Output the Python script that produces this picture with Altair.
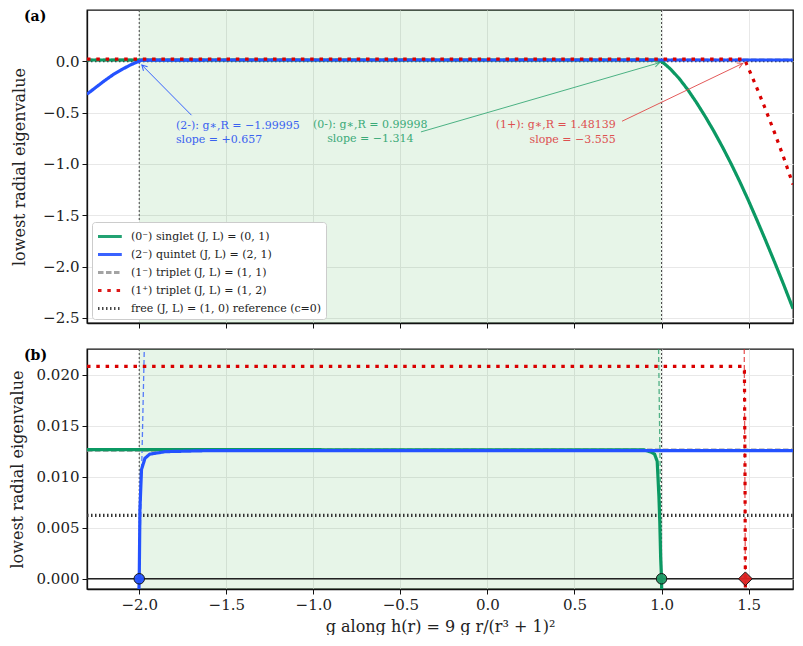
import math
import pandas as pd
import altair as alt

# ---- values ----
X_DOMAIN = [-2.3, 1.755]
TOP_DOMAIN = [-2.55, 0.5]
BOT_DOMAIN = [-0.001, 0.0225]
W, H_TOP, H_BOT = 706, 313, 240

series_keys = ['singlet', 'quintet', 'triplet_m', 'triplet_p', 'free']
series_labels = [
    '(0⁻) singlet (J, L) = (0, 1)',
    '(2⁻) quintet (J, L) = (2, 1)',
    '(1⁻) triplet (J, L) = (1, 1)',
    '(1⁺) triplet (J, L) = (1, 2)',
    'free (J, L) = (1, 0) reference (c=0)',
]
series_colors = ['#0b9963', '#2452ff', '#9a9a9a', '#d90000', '#333333']
series_dash = [[1, 0], [1, 0], [5.5, 2.5], [3.5, 5.8], [1.5, 2.5]]
series_width = [3.2, 3.2, 1.5, 3.5, 1.5]

g_singlet = [-2.3, 0.90, 0.94, 0.96, 0.975, 0.985, 0.99, 0.995, 0.99998, 1.01, 1.05, 1.10,
             1.15, 1.20, 1.25, 1.30, 1.35, 1.40, 1.45, 1.50, 1.55, 1.60, 1.65, 1.70, 1.755]
y_singlet = [0.01265, 0.01262, 0.0124, 0.0122, 0.0115, 0.0080, 0.0055, 0.0020, 0.0, -0.014,
             -0.073, -0.165, -0.275, -0.40, -0.535, -0.68, -0.835, -1.00, -1.175, -1.36, -1.555,
             -1.755, -1.96, -2.17, -2.41]

g_quintet = [-2.3, -2.25, -2.2, -2.15, -2.1, -2.05, -2.02, -2.005, -1.99995, -1.996, -1.987,
             -1.967, -1.94, -1.85, -1.6, 1.755]
y_quintet = [-0.32, -0.255, -0.19, -0.13, -0.08, -0.035, -0.013, -0.003, 0.0, 0.0068, 0.0107,
             0.0118, 0.0122, 0.01245, 0.01255, 0.01255]

g_triplet_m = [-2.3, 1.755]
y_triplet_m = [0.0126, 0.0126]

g_triplet_p = [-2.3, 1.47, 1.476, 1.479, 1.48139, 1.49, 1.50, 1.55, 1.60, 1.65, 1.70, 1.755]
y_triplet_p = [0.0208, 0.0208, 0.0204, 0.012, 0.0, -0.032, -0.07, -0.27, -0.48, -0.70, -0.93, -1.20]

g_free = [-2.3, 1.755]
y_free = [0.0062, 0.0062]

# crossings g*,R and slopes
cross_keys = ['quintet', 'singlet', 'triplet_p']
cross_g = [-1.99995, 0.99998, 1.48139]
cross_shape = ['circle', 'circle', 'diamond']
cross_color = ['#2452ff', '#1f9a66', '#dd2222']
# tangent dashes in panel (b): g at bottom (y=-0.001) and at top (y=0.0225)
tan_g_bottom = [-2.001, 1.0007, 1.4817]
tan_g_top = [-1.971, 0.983, 1.475]

# annotations in panel (a)
ann_text = ['(2-):  g∗,R = −1.99995', 'slope = +0.657',
            '(0-):  g∗,R = 0.99998', 'slope = −1.314',
            '(1+):  g∗,R = 1.48139', 'slope = −3.555']
ann_g = [-1.789, -1.789, -0.673, -0.673, 0.737, 0.737]
ann_y = [-0.632, -0.768, -0.62, -0.756, -0.62, -0.765]
ann_align = ['left', 'left', 'center', 'center', 'right', 'right']
ann_color = ['#3a62f0', '#3a62f0', '#3aaa78', '#3aaa78', '#dd5050', '#dd5050']

arrow_g0 = [-1.700, -0.382, 0.773]
arrow_y0 = [-0.525, -0.688, -0.584]
arrow_g1 = [-1.985, 0.989, 1.466]
arrow_y1 = [-0.036, -0.013, -0.020]
arrow_color = ['#2452ff', '#3aaa78', '#e04848']

region = [-2.0, 1.0]

FONT = 'DejaVu Serif'

frames = []
for k, g, y in [('singlet', g_singlet, y_singlet), ('quintet', g_quintet, y_quintet),
                ('triplet_m', g_triplet_m, y_triplet_m), ('triplet_p', g_triplet_p, y_triplet_p),
                ('free', g_free, y_free)]:
    frames.append(pd.DataFrame({'series': k, 'g': g, 'y': y}))
lines_df = pd.concat(frames, ignore_index=True)
label_map = dict(zip(series_keys, series_labels))
lines_df['label'] = lines_df['series'].map(label_map)

color_scale = alt.Scale(domain=series_labels, range=series_colors)
dash_scale = alt.Scale(domain=series_labels, range=series_dash)
width_scale = alt.Scale(domain=series_labels, range=series_width)


def panel(y_domain, height, show_legend, y_format, y_values, x_axis, title_x):
    x = alt.X('g:Q', scale=alt.Scale(domain=X_DOMAIN, nice=False, zero=False), axis=x_axis)
    y_enc = alt.Y('y:Q', scale=alt.Scale(domain=y_domain, nice=False, zero=False),
                  axis=alt.Axis(title='lowest radial eigenvalue', format=y_format, values=y_values,
                                titleX=title_x, titleBaseline='bottom'))
    legend = alt.Legend(title=None, orient='none', legendX=5, legendY=height - 101,
                        symbolType='M -1 0 H 1.8', symbolSize=289, labelFont=FONT, labelFontSize=11,
                        labelColor='#222', fillColor='white', strokeColor='#cccccc',
                        cornerRadius=3, padding=4, rowPadding=1, labelOffset=14, labelLimit=400,
                        symbolStrokeWidth=3) if show_legend else None

    shade = alt.Chart(pd.DataFrame({'a': [region[0]], 'b': [region[1]]})).mark_rect(
        color='#3cb043', opacity=0.12).encode(x=alt.X('a:Q', scale=alt.Scale(domain=X_DOMAIN, nice=False)), x2='b:Q')
    vlines = alt.Chart(pd.DataFrame({'g': region})).mark_rule(
        color='#444444', strokeDash=[2, 2], strokeWidth=1).encode(x='g:Q')

    layers = [shade, vlines]
    for k in ['triplet_m', 'free', 'singlet', 'quintet', 'triplet_p']:
        sub = lines_df[lines_df['series'] == k]
        layers.append(alt.Chart(sub).mark_line(clip=True, strokeCap='butt').encode(
            x=x, y=y_enc, order=alt.Order('g:Q'),
            color=alt.Color('label:N', scale=color_scale, legend=legend),
            strokeDash=alt.StrokeDash('label:N', scale=dash_scale, legend=legend),
            strokeWidth=alt.StrokeWidth('label:N', scale=width_scale, legend=legend),
        ))
    return layers


# ---- panel (a) ----
top_layers = panel(TOP_DOMAIN, H_TOP, True, '.1f', [0.0, -0.5, -1.0, -1.5, -2.0, -2.5],
                   alt.Axis(labels=False, title=None, values=[-2.0, -1.5, -1.0, -0.5, 0.0, 0.5, 1.0, 1.5]),
                   -60)

ann_df = pd.DataFrame({'t': ann_text, 'g': ann_g, 'y': ann_y, 'al': ann_align, 'c': ann_color})
for al in ['left', 'center', 'right']:
    top_layers.append(alt.Chart(ann_df[ann_df['al'] == al]).mark_text(
        align=al, baseline='middle', font=FONT, fontSize=11).encode(
        x='g:Q', y='y:Q', text='t:N', color=alt.Color('c:N', scale=None)))

kx = W / (X_DOMAIN[1] - X_DOMAIN[0])
ky = H_TOP / (TOP_DOMAIN[1] - TOP_DOMAIN[0])
arrow_angle = [math.degrees(math.atan2((g1 - g0) * kx, (y1 - y0) * ky)) % 360
               for g0, y0, g1, y1 in zip(arrow_g0, arrow_y0, arrow_g1, arrow_y1)]
arr_df = pd.DataFrame({'g0': arrow_g0, 'y0': arrow_y0, 'g1': arrow_g1, 'y1': arrow_y1,
                       'c': arrow_color, 'ang': arrow_angle})
top_layers.append(alt.Chart(arr_df).mark_rule(strokeWidth=1, opacity=0.9).encode(
    x='g0:Q', y='y0:Q', x2='g1:Q', y2='y1:Q', color=alt.Color('c:N', scale=None)))
top_layers.append(alt.Chart(arr_df).mark_point(
    shape='M -0.55 1 L 0 0 L 0.55 1', filled=False, size=110, strokeWidth=1, opacity=0.9).encode(
    x='g1:Q', y='y1:Q', angle=alt.Angle('ang:Q', scale=None), color=alt.Color('c:N', scale=None)))
top_layers.append(alt.Chart(pd.DataFrame({'t': ['(a)']})).mark_text(
    font=FONT, fontSize=14, fontWeight='bold', align='left', baseline='middle').encode(
    text='t:N', x=alt.value(-63), y=alt.value(7)))

top = alt.layer(*top_layers).properties(width=W, height=H_TOP)

# ---- panel (b) ----
bot_layers = panel(BOT_DOMAIN, H_BOT, False, '.3f', [0.0, 0.005, 0.01, 0.015, 0.02],
                   alt.Axis(title='g along h(r) = 9 g r/(r³ + 1)²', format='.1f',
                            values=[-2.0, -1.5, -1.0, -0.5, 0.0, 0.5, 1.0, 1.5]),
                   -62)

bot_layers.insert(2, alt.Chart(pd.DataFrame({'y': [0.0]})).mark_rule(
    color='#222222', strokeWidth=1.5).encode(y='y:Q'))

tan_rows = []
for k, gb, gt, c in zip(cross_keys, tan_g_bottom, tan_g_top, cross_color):
    tan_rows.append({'k': k, 'g': gb, 'y': BOT_DOMAIN[0], 'c': c})
    tan_rows.append({'k': k, 'g': gt, 'y': BOT_DOMAIN[1], 'c': c})
tan_df = pd.DataFrame(tan_rows)
bot_layers.insert(3, alt.Chart(tan_df).mark_line(
    strokeDash=[5, 3], strokeWidth=1.3, opacity=0.75, clip=True).encode(
    x='g:Q', y='y:Q', detail='k:N', color=alt.Color('c:N', scale=None)))

mk_df = pd.DataFrame({'g': cross_g, 'y': [0.0, 0.0, 0.0], 's': cross_shape, 'c': cross_color,
                      'sz': [110, 110, 190]})
bot_layers.append(alt.Chart(mk_df).mark_point(filled=True, opacity=0.95, stroke='#111111',
                                              strokeWidth=1).encode(
    x='g:Q', y='y:Q', shape=alt.Shape('s:N', scale=None), fill=alt.Fill('c:N', scale=None),
    size=alt.Size('sz:Q', scale=None)))
bot_layers.append(alt.Chart(pd.DataFrame({'t': ['(b)']})).mark_text(
    font=FONT, fontSize=14, fontWeight='bold', align='left', baseline='middle').encode(
    text='t:N', x=alt.value(-63), y=alt.value(7)))

bottom = alt.layer(*bot_layers).properties(width=W, height=H_BOT)

chart = alt.vconcat(top, bottom, spacing=17).resolve_scale(
    color='independent', strokeDash='independent', strokeWidth='independent'
).resolve_legend(
    color='independent', strokeDash='independent', strokeWidth='independent'
).properties(
    padding={'left': 0, 'top': 0, 'right': 0, 'bottom': 0}
).configure_view(
    stroke='#111111', strokeWidth=1.3
).configure_axis(
    labelFont=FONT, labelFontSize=15, labelColor='#222222', titleFont=FONT, titleFontSize=16,
    titleFontWeight='normal', titleColor='#222222', grid=True, gridColor='#e8e8e8',
    domainColor='#111111', domainWidth=1.3, tickColor='#111111', tickSize=5, labelPadding=3,
    titlePadding=6
)

chart.save('out.html', embed_options={'renderer': 'svg', 'actions': False})
